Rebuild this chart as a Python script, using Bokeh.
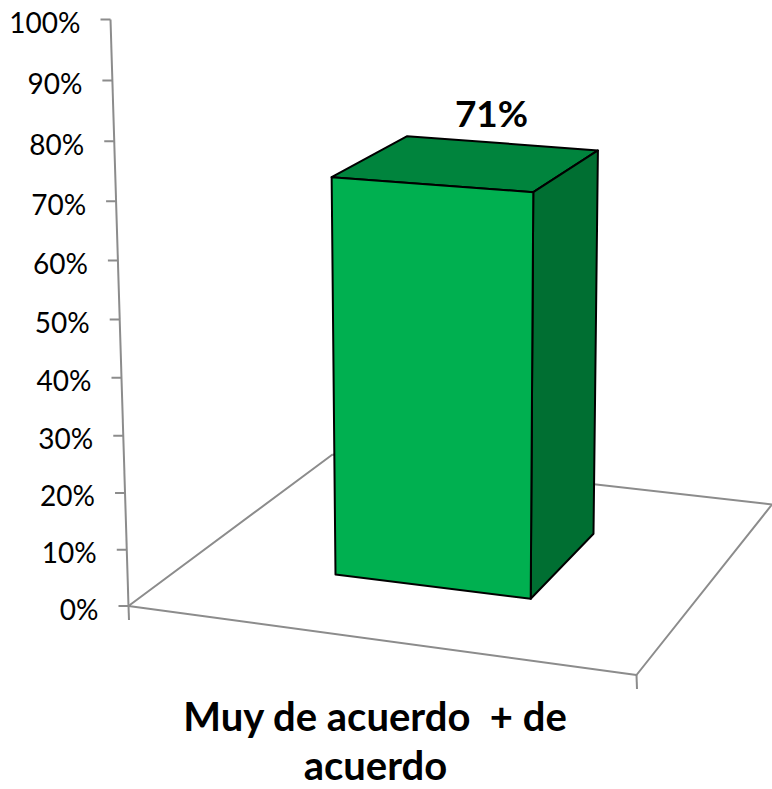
from bokeh.plotting import figure
from bokeh.models import Range1d
from bokeh.core.properties import value
from bokeh.embed import file_html
from bokeh.resources import INLINE

# ---- data ----
categories = ["Muy de acuerdo \u00a0+ de", "acuerdo"]
series_values = [71]
tick_values = [0, 10, 20, 30, 40, 50, 60, 70, 80, 90, 100]
tick_labels = ["0%", "10%", "20%", "30%", "40%", "50%", "60%", "70%", "80%", "90%", "100%"]

# ---- projection of the 3D scene onto the page (page pixels) ----
def axis_y(v):
    return (605.5 - 5.8736 * v) / (1 - 0.00045 * v)

def rise(v):
    return (axis_y(0) - axis_y(v)) / (axis_y(0) - axis_y(100))

def axis_x(v):
    return 128 - 18 * rise(v)

FLOOR = [(128, 605.5), (636, 674.5), (771.5, 504), (332, 454)]
# base corner of the bar, and how far it moves at 100 %
BAR = {
    "fl": ((335, 574), (-5.5, -567.2)),
    "fr": ((530.2, 598.3), (3.7, -580.5)),
    "br": ((593.0, 533.3), (6.3, -547.3)),
    "bl": ((397.6, 509), (13.0, -533.0)),
}

def corner(name, v):
    (x, y), (dx, dy) = BAR[name]
    t = rise(v)
    return x + dx * t, y + dy * t

FONT = value("Lato")
GREY = "#8c8c8c"

p = figure(width=772, height=789, output_backend="svg", toolbar_location=None,
           x_range=Range1d(0, 772), y_range=Range1d(789, 0),
           x_axis_location=None, y_axis_location=None, min_border=0,
           outline_line_color=None)
p.grid.visible = False
p.background_fill_color = "white"

# floor
p.line([FLOOR[3][0], FLOOR[0][0], FLOOR[1][0], FLOOR[2][0], FLOOR[3][0]],
       [FLOOR[3][1], FLOOR[0][1], FLOOR[1][1], FLOOR[2][1], FLOOR[3][1]],
       line_color=GREY, line_width=2)
# category ticks
for fx, fy in FLOOR[:2]:
    p.line([fx, fx + 0.5], [fy, fy + 14], line_color=GREY, line_width=2)

# value axis
p.line([axis_x(v) for v in (0, 100)], [axis_y(v) for v in (0, 100)],
       line_color=GREY, line_width=2)
p.segment([axis_x(v) - 10 for v in tick_values], [axis_y(v) for v in tick_values],
          [axis_x(v) for v in tick_values], [axis_y(v) for v in tick_values],
          line_color=GREY, line_width=2)
p.text([axis_x(v) - 30 for v in tick_values], [axis_y(v) + 2.5 for v in tick_values],
       text=tick_labels, text_font=FONT, text_font_size="28px",
       text_align="right", text_baseline="middle", text_color="#000000")

# bar
v = series_values[0]

def poly(names, level0, level1, color):
    lo = [corner(n, level0) for n in names]
    hi = [corner(n, level1) for n in reversed(names)]
    pts = lo + hi
    p.patch([q[0] for q in pts], [q[1] for q in pts], fill_color=color,
            line_color="#000000", line_width=2, line_join="round")

top = [corner(n, v) for n in ("fl", "fr", "br", "bl")]
p.patch([q[0] for q in top], [q[1] for q in top], fill_color="#00843D",
        line_color="#000000", line_width=2, line_join="round")
poly(["fr", "br"], 0, v, "#006F32")
poly(["fl", "fr"], 0, v, "#00B050")

# labels
p.text([491], [axis_y(v) - 83], text=[f"{v}%"], text_font=FONT, text_font_style="bold",
       text_font_size="37px", text_align="center", text_baseline="middle",
       text_color="#000000")
p.text([375, 375], [715, 764], text=categories, text_font=FONT, text_font_style="bold",
       text_font_size="40px", text_align="center", text_baseline="middle",
       text_color="#000000")

open("out.html", "w").write(file_html(p, INLINE))
